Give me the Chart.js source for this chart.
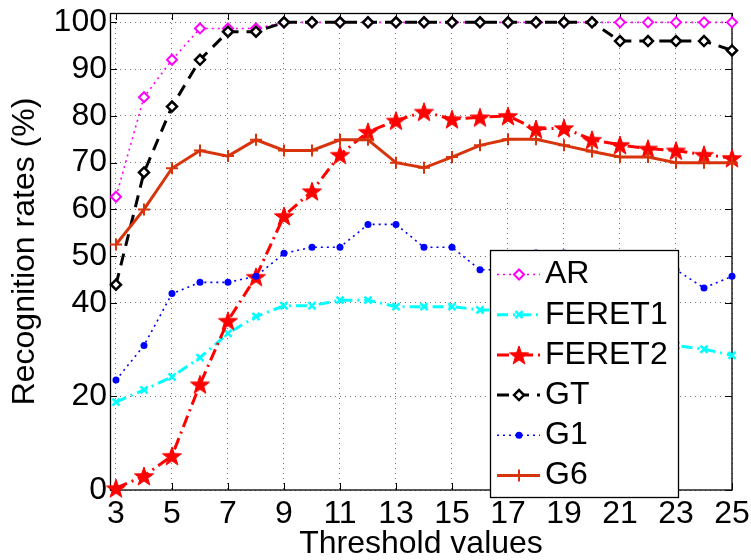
<!DOCTYPE html>
<html><head><meta charset="utf-8">
<script src="https://cdn.jsdelivr.net/npm/chart.js@4.4.1/dist/chart.umd.min.js"></script>
<style>html,body{margin:0;padding:0;background:#fff;}canvas{display:block;}</style>
</head><body>
<canvas id="c" width="751" height="560"></canvas>
<script>
// ---------- data ----------
const thresholds = [3,4,5,6,7,8,9,10,11,12,13,14,15,16,17,18,19,20,21,22,23,24,25];
const xTickValues = [3,5,7,9,11,13,15,17,19,21,23,25];
const yTickValues = [0,20,40,50,60,70,80,90,100];
const seriesNames = ['AR','FERET1','FERET2','GT','G1','G6'];
const arValues     = [62.7,84,92,98.7,98.7,98.7,100,100,100,100,100,100,100,100,100,100,100,100,100,100,100,100,100];
const feret1Values = [18.8,21.4,24.2,28.3,33.5,37.1,39.4,39.4,40.6,40.6,39.2,39.2,39.2,38.5,38.5,37.1,35.8,34.5,33.2,32,30.9,30.1,28.8];
const feret2Values = [0.4,3,7.3,22.6,36.2,45.6,58.6,63.9,71.7,76.6,79,80.9,79.3,79.7,80,77.2,77.4,74.9,73.8,73,72.6,71.7,71];
const gtValues     = [43.9,67.9,82,92,98,98,100,100,100,100,100,100,100,100,100,100,100,100,96,96,96,96,94];
const g1Values     = [23.5,30.9,42,44.4,44.4,45.7,50.6,51.9,51.9,56.8,56.8,51.9,51.9,47.1,47.1,50.7,50.7,49.4,48.2,48.2,47.1,43.2,45.7];
const g6Values     = [52.5,60,68.8,72.6,71.4,74.9,72.6,72.6,74.9,74.9,70,68.9,71.2,73.7,75,75,73.7,72.4,71.2,71.2,70,70,70];

// ---------- helpers ----------
const FONT = "'Liberation Sans', Arial, Helvetica, sans-serif";
function pts(vals){ return thresholds.map((t,i)=>({x:t, y:vals[i]})); }
function makeStar(r, ri, color){
  const s = Math.ceil(r*2+4);
  const c = document.createElement('canvas'); c.width = s; c.height = s;
  const g = c.getContext('2d');
  g.translate(s/2, s/2 + 1);
  g.beginPath();
  for (let i=0;i<10;i++){
    const rad = (i%2) ? ri : r;
    const ang = -Math.PI/2 + i*Math.PI/5;
    g.lineTo(rad*Math.cos(ang), rad*Math.sin(ang));
  }
  g.closePath();
  g.fillStyle = color; g.fill();
  g.strokeStyle = color; g.lineWidth = 1; g.stroke();
  return c;
}
const starImg = makeStar(10, 4, '#ff0000');
const G6C = 'rgb(215,52,12)';

const datasets = [
  {label: seriesNames[0], data: pts(arValues), borderColor:'#ff00ff', borderWidth:1.6, borderDash:[2,4],
   pointStyle:'rectRot', pointRadius:5, pointBorderWidth:2, pointBorderColor:'#ff00ff', pointBackgroundColor:'#ffffff', order:6},
  {label: seriesNames[1], data: pts(feret1Values), borderColor:'#00ffff', borderWidth:3, borderDash:[11,5,2,5],
   pointStyle:'crossRot', pointRadius:5, pointBorderWidth:2.5, pointBorderColor:'#00ffff', pointBackgroundColor:'#00ffff', order:5},
  {label: seriesNames[2], data: pts(feret2Values), borderColor:'#ff0000', borderWidth:3, borderDash:[12,5,2,5],
   pointStyle:starImg, pointRadius:10, pointBorderColor:'#ff0000', pointBackgroundColor:'#ff0000', order:4},
  {label: seriesNames[3], data: pts(gtValues), borderColor:'#000000', borderWidth:3, borderDash:[12,8],
   pointStyle:'rectRot', pointRadius:5, pointBorderWidth:2.5, pointBorderColor:'#000000', pointBackgroundColor:'#ffffff', order:3},
  {label: seriesNames[4], data: pts(g1Values), borderColor:'#0000ff', borderWidth:1.6, borderDash:[2,4],
   pointStyle:'circle', pointRadius:3.5, pointBorderWidth:0, pointBorderColor:'#0000ff', pointBackgroundColor:'#0000ff', order:2},
  {label: seriesNames[5], data: pts(g6Values), borderColor:G6C, borderWidth:3, borderDash:[],
   pointStyle:'cross', pointRadius:6, pointBorderWidth:2, pointBorderColor:G6C, pointBackgroundColor:G6C, order:1},
];
datasets.forEach(d=>{ d.fill=false; d.tension=0; d.clip=false; d.backgroundColor=d.borderColor; d.pointHoverRadius=d.pointRadius; });

// ---------- frame, ticks and legend ----------
const framePlugin = {
  id:'frame',
  beforeDatasetsDraw(chart){
    const {ctx, chartArea:a, scales:{x, y}} = chart;
    ctx.save();
    ctx.strokeStyle = '#000'; ctx.lineWidth = 1; ctx.setLineDash([]);
    ctx.beginPath();
    y.ticks.forEach(t=>{
      const py = Math.round(y.getPixelForValue(t.value)) + 0.5;
      ctx.moveTo(a.left, py); ctx.lineTo(a.left+7, py);
      ctx.moveTo(a.right, py); ctx.lineTo(a.right-7, py);
    });
    x.ticks.forEach(t=>{
      const px = Math.round(x.getPixelForValue(t.value)) + 0.5;
      ctx.moveTo(px, a.bottom); ctx.lineTo(px, a.bottom-7);
      ctx.moveTo(px, a.top); ctx.lineTo(px, a.top+7);
    });
    ctx.stroke();
    ctx.lineWidth = 1.3;
    ctx.strokeRect(a.left+0.5, a.top+0.5, a.right-a.left-0.5, a.bottom-a.top-0.5);
    ctx.restore();
  },
  afterDraw(chart){
    const ctx = chart.ctx;
    const bx = 490, by = 250, bw = 188, bh = 247;
    ctx.save();
    ctx.fillStyle = '#fff';
    ctx.fillRect(bx, by, bw, bh);
    ctx.strokeStyle = '#000'; ctx.lineWidth = 1.3; ctx.setLineDash([]);
    ctx.strokeRect(bx+0.5, by+0.5, bw, bh);
    chart.data.datasets.forEach((ds, i)=>{
      const cy = 274.5 + i*40.2;
      ctx.save();
      ctx.beginPath();
      ctx.setLineDash(ds.borderDash || []);
      ctx.strokeStyle = ds.borderColor; ctx.lineWidth = ds.borderWidth;
      ctx.moveTo(497, cy); ctx.lineTo(540, cy); ctx.stroke();
      ctx.setLineDash([]);
      const mx = 519;
      if (typeof ds.pointStyle === 'object') {
        ctx.drawImage(ds.pointStyle, mx - ds.pointStyle.width/2, cy - ds.pointStyle.height/2);
      } else {
        ctx.fillStyle = ds.pointBackgroundColor; ctx.strokeStyle = ds.pointBorderColor;
        ctx.lineWidth = ds.pointBorderWidth;
        Chart.helpers.drawPoint(ctx, {radius: ds.pointRadius, pointStyle: ds.pointStyle, rotation:0, borderWidth: ds.pointBorderWidth}, mx, cy);
      }
      ctx.restore();
      ctx.fillStyle = '#000';
      ctx.font = '32px ' + FONT;
      ctx.textBaseline = 'middle'; ctx.textAlign = 'left';
      ctx.fillText(ds.label, 545, cy);
    });
    ctx.restore();
  }
};

new Chart(document.getElementById('c'), {
  type:'line',
  data:{ datasets },
  plugins:[framePlugin],
  options:{
    responsive:false, animation:false, devicePixelRatio:1,
    layout:{ padding:{ top:6, right:19, left:0, bottom:0 } },
    plugins:{ legend:{display:false}, tooltip:{enabled:false} },
    scales:{
      x:{
        type:'linear', min:2.786, max:25,
        afterBuildTicks(s){ s.ticks = xTickValues.map(v=>({value:v})); },
        afterFit(s){ s.height = 70; s.paddingLeft = 0; s.paddingRight = 0; },
        grid:{ color:'rgba(0,0,0,0.55)', lineWidth:1, drawTicks:false },
        border:{ display:false, dash:[1,4] },
        ticks:{ color:'#000', padding:5, maxRotation:0, autoSkip:false, font:{family:FONT, size:32, lineHeight:1.2} },
        title:{ display:true, text:'Threshold values', color:'#000', padding:{top:0,bottom:0}, font:{family:FONT, size:32, lineHeight:1} }
      },
      y:{
        type:'linear', min:0, max:102,
        afterBuildTicks(s){ s.ticks = yTickValues.map(v=>({value:v})); },
        afterFit(s){ s.width = 110; s.paddingTop = 0; s.paddingBottom = 0; },
        grid:{ color:'rgba(0,0,0,0.55)', lineWidth:1, drawTicks:false },
        border:{ display:false, dash:[1,4] },
        ticks:{ color:'#000', padding:3, autoSkip:false, font:{family:FONT, size:32, lineHeight:1.2} },
        title:{ display:true, text:'Recognition rates (%)', color:'#000', padding:{top:9,bottom:0}, font:{family:FONT, size:32, lineHeight:1} }
      }
    }
  }
});
</script>
</body></html>
